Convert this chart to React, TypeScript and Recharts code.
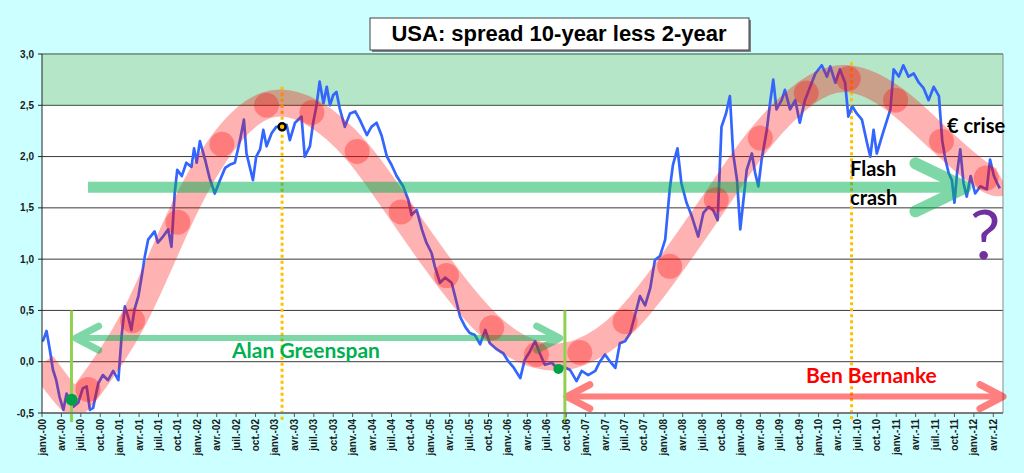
import {
  CartesianGrid,
  ComposedChart,
  Line,
  ReferenceArea,
  ReferenceDot,
  ReferenceLine,
  XAxis,
  YAxis,
} from "recharts";

// x = months since janv.-00, y = spread in points
const spread: Array<[number, number]> = [
  [0, 0.2], [0.2, 0.21], [0.7, 0.3], [1.2, 0.12], [1.7, -0.08], [2.2, -0.18],
  [2.7, -0.34], [3.3, -0.47], [3.8, -0.31], [4.3, -0.37], [4.8, -0.44],
  [5.6, -0.4], [6.3, -0.26], [6.9, -0.24], [7.4, -0.47], [7.9, -0.45],
  [8.7, -0.21], [9.4, -0.13], [10.2, -0.18], [11.0, -0.09], [11.8, -0.18],
  [12.3, 0.25], [12.8, 0.54], [13.3, 0.44], [13.8, 0.31], [14.3, 0.51],
  [14.9, 0.64], [15.4, 0.83], [15.9, 1.03], [16.4, 1.19], [17.4, 1.27],
  [17.9, 1.16], [18.7, 1.22], [19.5, 1.29], [20.0, 1.12], [20.5, 1.64],
  [20.9, 1.87], [21.6, 1.81], [22.3, 1.94], [23.1, 1.9], [23.5, 2.08],
  [23.9, 1.94], [24.4, 2.15], [25.2, 1.97], [25.9, 1.79], [26.7, 1.64],
  [27.5, 1.77], [28.3, 1.89], [29.0, 1.92], [29.8, 1.94], [30.6, 2.16],
  [31.2, 2.36], [31.6, 2.03], [32.6, 1.77], [33.1, 2.0], [33.7, 2.07],
  [34.2, 2.26], [34.7, 2.1], [35.5, 2.23], [36.2, 2.29], [37.0, 2.29],
  [37.8, 2.31], [38.3, 2.16], [39.1, 2.33], [40.1, 2.39], [40.6, 2.0],
  [41.4, 2.1], [41.9, 2.33], [42.4, 2.49], [42.9, 2.73], [43.5, 2.52],
  [44.0, 2.68], [44.5, 2.5], [45.0, 2.6], [45.5, 2.63], [46.0, 2.47],
  [46.8, 2.29], [47.6, 2.42], [48.4, 2.44], [49.1, 2.36], [50.2, 2.21],
  [50.9, 2.29], [51.7, 2.33], [52.5, 2.2], [53.3, 2.0], [54.0, 1.92],
  [54.8, 1.81], [55.8, 1.71], [56.6, 1.58], [57.1, 1.43], [57.9, 1.48],
  [58.7, 1.29], [59.4, 1.16], [60.2, 1.06], [60.7, 0.93], [61.5, 0.77],
  [62.3, 0.82], [63.3, 0.77], [64.1, 0.57], [64.6, 0.44], [65.4, 0.34],
  [66.1, 0.28], [66.9, 0.26], [67.7, 0.17], [68.5, 0.31], [69.2, 0.18],
  [70.3, 0.12], [71.3, 0.08], [72.1, 0.0], [72.8, -0.05], [73.9, -0.16],
  [74.6, 0.02], [75.4, 0.1], [76.2, 0.2], [77.0, 0.07], [77.7, -0.03],
  [78.8, -0.01], [79.5, -0.06], [80.6, -0.05], [81.6, -0.08], [82.6, -0.19],
  [83.4, -0.09], [84.4, -0.13], [85.5, -0.09], [86.2, 0.0], [87.0, 0.07],
  [87.8, 0.0], [88.6, -0.06], [89.3, 0.18], [90.1, 0.2], [90.9, 0.28],
  [91.7, 0.47], [92.4, 0.64], [93.2, 0.55], [94.0, 0.72], [94.7, 0.99],
  [95.5, 1.03], [96.3, 1.19], [97.0, 1.68], [97.5, 1.92], [98.2, 2.08],
  [98.8, 1.74], [99.6, 1.55], [100.4, 1.42], [101.4, 1.22], [102.2, 1.45],
  [103.0, 1.51], [103.7, 1.48], [104.4, 1.38], [105.0, 2.29], [105.7, 2.42],
  [106.3, 2.59], [106.8, 2.03], [107.4, 1.77], [107.9, 1.29], [108.4, 1.58],
  [108.9, 1.87], [109.7, 2.03], [110.2, 1.84], [110.7, 1.71], [111.2, 1.97],
  [112.0, 2.26], [112.5, 2.52], [113.0, 2.75], [113.5, 2.46], [114.3, 2.55],
  [114.8, 2.65], [115.6, 2.46], [116.4, 2.55], [117.1, 2.33], [117.9, 2.55],
  [118.7, 2.68], [119.5, 2.81], [120.5, 2.89], [121.3, 2.78], [121.8, 2.88],
  [122.6, 2.72], [123.3, 2.85], [124.1, 2.72], [124.6, 2.39], [125.2, 2.49],
  [125.9, 2.42], [126.7, 2.36], [127.5, 2.13], [128.0, 2.0], [128.5, 2.26],
  [129.0, 2.03], [129.8, 2.2], [130.6, 2.36], [131.1, 2.46], [131.6, 2.85],
  [132.4, 2.78], [133.1, 2.89], [133.9, 2.78], [134.7, 2.81], [135.5, 2.72],
  [136.2, 2.67], [137.0, 2.55], [137.8, 2.68], [138.6, 2.59], [139.1, 2.16],
  [139.6, 1.97], [140.1, 1.84], [140.6, 1.77], [141.0, 1.55], [141.4, 1.84],
  [141.9, 2.07], [142.4, 1.74], [142.9, 1.61], [143.5, 1.81], [144.2, 1.64],
  [145.0, 1.71], [146.0, 1.68], [146.5, 1.97], [147.1, 1.81], [147.6, 1.74],
  [148.0, 1.69],
];

// hand-drawn cycle: the thick pink band and its dots
const cycleBand: Array<[number, number]> = [
  [0, -0.02], [4.2, -0.36], [7.1, -0.27], [14.0, 0.4], [21.0, 1.36],
  [27.8, 2.12], [34.7, 2.5], [41.7, 2.43], [48.7, 2.05], [55.5, 1.46],
  [62.5, 0.84], [69.5, 0.33], [76.4, 0.07], [83.1, 0.09], [90.1, 0.39],
  [97.0, 0.93], [104.2, 1.58], [111.0, 2.18], [118.1, 2.62], [124.6, 2.76],
  [131.9, 2.55], [139.0, 2.15], [145.9, 1.79], [148.5, 1.76],
];
const cycleDots: Array<[number, number]> = cycleBand.slice(2, -1);

const yTicks = [-0.5, 0, 0.5, 1, 1.5, 2, 2.5, 3];
const quarterNames = ["janv.", "avr.", "juil.", "oct."];
const years = ["00", "01", "02", "03", "04", "05", "06", "07", "08", "09", "10", "11", "12"];
const quarterLabels = years.flatMap((yy) => quarterNames.map((q) => `${q}-${yy}`)).slice(0, 50);
const quarterTicks = quarterLabels.map((_, i) => i * 3);

// annotation anchors, in chart units
const greenspanArrow = { y: 0.23, from: 5.2, to: 80.0 };
const bernankeArrow = { y: -0.34, from: 81.1, to: 148.5 };
const trendArrow = { y: 1.7, from: 7.1, to: 142.7 };
const fedMarks = [4.55, 80.8];
const eventMarks = [
  { x: 37.1, top: 2.68 },
  { x: 125.1, top: 2.92 },
];

const spreadRows = spread.map(([m, v]) => ({ m, v }));
const bandRows = cycleBand.map(([m, v]) => ({ m, v }));
const dotRows = cycleDots.map(([m, v]) => ({ m, v }));

const ARIAL = "'Liberation Sans', Arial, sans-serif";
const CALIBRI = "Lato, 'Open Sans', sans-serif";

function QuarterTick({ x, y, payload }: any) {
  const label = quarterLabels[Math.round(payload.value / 3)];
  return (
    <text
      transform={`translate(${x},${y}) rotate(-90)`}
      textAnchor="end"
      dy={3.5}
      fontSize={10}
      fontWeight="bold"
      fontFamily={ARIAL}
      fill="#1a1a1a"
    >
      {label}
    </text>
  );
}

type ArrowOpts = {
  color: string;
  width: number;
  armX: number;
  armY: number;
  start?: boolean;
  end?: boolean;
};

function arrowShape(opts: ArrowOpts) {
  return (props: any) => {
    const { x1, y1, x2, y2 } = props;
    const a = Math.min(x1, x2);
    const b = Math.max(x1, x2);
    const y = y1;
    return (
      <g opacity={0.5}>
        <line x1={a} y1={y} x2={b} y2={y2} stroke={opts.color} strokeWidth={opts.width} />
        {opts.end && (
          <path
            d={`M${b - opts.armX},${y - opts.armY}L${b},${y}L${b - opts.armX},${y + opts.armY}`}
            fill="none"
            stroke={opts.color}
            strokeWidth={opts.width + 1}
            strokeLinecap="round"
            strokeLinejoin="round"
          />
        )}
        {opts.start && (
          <path
            d={`M${a + opts.armX},${y - opts.armY}L${a},${y}L${a + opts.armX},${y + opts.armY}`}
            fill="none"
            stroke={opts.color}
            strokeWidth={opts.width + 1}
            strokeLinecap="round"
            strokeLinejoin="round"
          />
        )}
      </g>
    );
  };
}

export default function App() {
  return (
    <div
      style={{
        position: "absolute",
        left: 0,
        top: 0,
        width: 1024,
        height: 473,
        background: "#ccffff",
        overflow: "hidden",
      }}
    >
      <ComposedChart
        width={1024}
        height={473}
        data={spreadRows}
        margin={{ top: 54, right: 21, bottom: 0, left: 6 }}
      >
        <CartesianGrid fill="#ffffff" vertical={false} stroke="#3a3a3a" strokeOpacity={1} />
        <XAxis
          dataKey="m"
          type="number"
          domain={[0, 148.5]}
          ticks={quarterTicks}
          interval={0}
          height={60}
          tickSize={4}
          tick={<QuarterTick />}
          axisLine={{ stroke: "#7a7a7a", strokeWidth: 2 }}
          tickLine={{ stroke: "#555" }}
          allowDataOverflow
        />
        <YAxis
          type="number"
          domain={[-0.5, 3]}
          ticks={yTicks}
          width={36}
          tickSize={4}
          tickMargin={4}
          tickFormatter={(v: number) => v.toFixed(1).replace(".", ",")}
          tick={{ fontSize: 10, fontWeight: "bold", fill: "#1a1a1a", fontFamily: ARIAL }}
          axisLine={{ stroke: "#222" }}
          tickLine={{ stroke: "#222" }}
          allowDataOverflow
        />
        <ReferenceLine x={148.5} stroke="#8a8a8a" ifOverflow="visible" />
        {eventMarks.map((e) => (
          <ReferenceLine
            key={e.x}
            segment={[
              { x: e.x, y: e.top },
              { x: e.x, y: -0.57 },
            ]}
            stroke="#ffc000"
            strokeWidth={3}
            strokeDasharray="3 3"
            ifOverflow="visible"
          />
        ))}
        <Line
          dataKey="v"
          type="linear"
          stroke="#3366ff"
          strokeWidth={2.7}
          strokeLinejoin="round"
          dot={false}
          activeDot={false}
          isAnimationActive={false}
        />
        <ReferenceDot x={4.6} y={-0.37} r={6} fill="#00a046" stroke="none" />
        <ReferenceDot x={79.8} y={-0.07} r={5} fill="#00a046" stroke="none" />
        <Line
          data={bandRows}
          dataKey="v"
          type="natural"
          stroke="#ff0000"
          strokeOpacity={0.3}
          strokeWidth={27}
          dot={false}
          activeDot={false}
          isAnimationActive={false}
        />
        <Line
          data={dotRows}
          dataKey="v"
          stroke="none"
          dot={{ r: 12.5, fill: "#ff0000", fillOpacity: 0.3, stroke: "none" }}
          activeDot={false}
          isAnimationActive={false}
        />
        <ReferenceArea y1={2.5} y2={3} fill="#33bb66" fillOpacity={0.37} stroke="none" />
        <ReferenceLine
          segment={[
            { x: trendArrow.from, y: trendArrow.y },
            { x: trendArrow.to, y: trendArrow.y },
          ]}
          shape={arrowShape({ color: "#00b050", width: 11, armX: 50, armY: 24, end: true })}
          ifOverflow="visible"
        />
        <ReferenceLine
          segment={[
            { x: greenspanArrow.from, y: greenspanArrow.y },
            { x: greenspanArrow.to, y: greenspanArrow.y },
          ]}
          shape={arrowShape({ color: "#00b050", width: 6, armX: 23, armY: 12, start: true, end: true })}
          ifOverflow="visible"
        />
        <ReferenceLine
          segment={[
            { x: bernankeArrow.from, y: bernankeArrow.y },
            { x: bernankeArrow.to, y: bernankeArrow.y },
          ]}
          shape={arrowShape({ color: "#ff0000", width: 6, armX: 23, armY: 12, start: true, end: true })}
          ifOverflow="visible"
        />
        {fedMarks.map((m) => (
          <ReferenceLine
            key={m}
            segment={[
              { x: m, y: 0.5 },
              { x: m, y: -0.59 },
            ]}
            stroke="#92d050"
            strokeWidth={3}
            ifOverflow="visible"
          />
        ))}
        <ReferenceDot x={37.1} y={2.29} r={3.5} fill="#ffc000" stroke="#000" strokeWidth={2.5} />
      </ComposedChart>

      <svg
        width={1024}
        height={473}
        style={{ position: "absolute", left: 0, top: 0, pointerEvents: "none" }}
      >
        <rect x={372} y={20} width={379} height={32} fill="#808080" />
        <rect x={370} y={18} width={379} height={32} fill="#ffffff" stroke="#404040" strokeWidth={1} />
        <text x={559} y={41} textAnchor="middle" fontFamily={ARIAL} fontWeight="bold" fontSize={22} fill="#000">
          USA: spread 10-year less 2-year
        </text>
        <text x={232} y={358} fontFamily={CALIBRI} fontWeight="bold" fontSize={21} fill="#00b050">
          Alan Greenspan
        </text>
        <text x={806} y={383} fontFamily={CALIBRI} fontWeight="bold" fontSize={21} fill="#ff0000">
          Ben Bernanke
        </text>
        <text x={947} y={133} fontFamily={CALIBRI} fontWeight="bold" fontSize={20} fill="#000">
          € crise
        </text>
        <text x={850} y={176} fontFamily={CALIBRI} fontWeight="bold" fontSize={20} fill="#000">
          Flash
        </text>
        <text x={850} y={205} fontFamily={CALIBRI} fontWeight="bold" fontSize={20} fill="#000">
          crash
        </text>
        <text x={970} y={259} fontFamily={CALIBRI} fontSize={68} fill="#7030a0">
          ?
        </text>
      </svg>
    </div>
  );
}
